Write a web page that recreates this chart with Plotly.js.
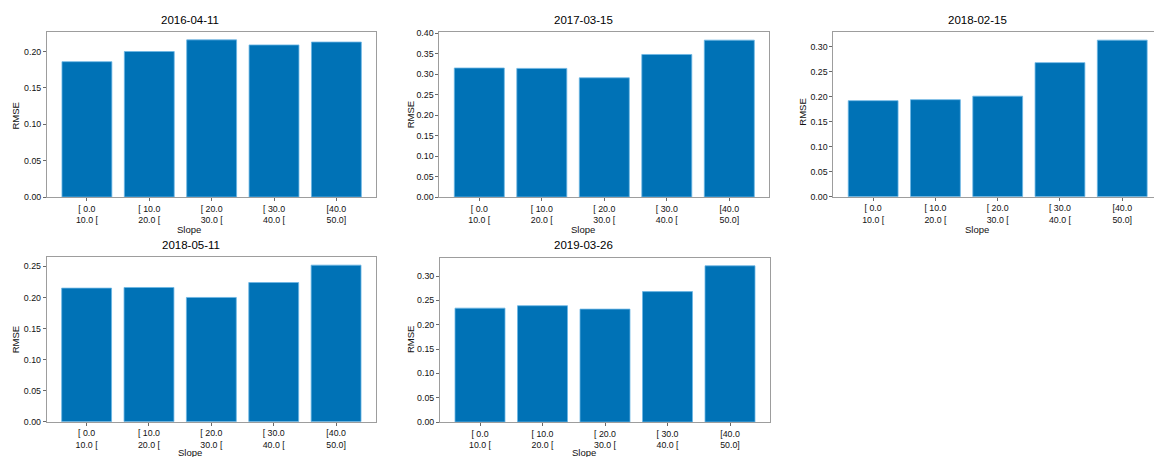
<!DOCTYPE html>
<html>
<head>
<meta charset="utf-8">
<script src="https://cdn.plot.ly/plotly-3.0.1.min.js"></script>
<style>html,body{margin:0;padding:0;background:#fff;}#chart{width:1154px;height:457px;}</style>
</head>
<body>
<div id="chart"></div>
<script>
// ---- data ----
const slopeClasses = ['[ 0.0<br>10.0 [', '[ 10.0<br>20.0 [', '[ 20.0<br>30.0 [', '[ 30.0<br>40.0 [', '[40.0<br>50.0]'];
const dates = ['2016-04-11', '2017-03-15', '2018-02-15', '2018-05-11', '2019-03-26'];
const rmse_2016_04_11 = [0.186, 0.200, 0.216, 0.209, 0.213];
const rmse_2017_03_15 = [0.315, 0.314, 0.291, 0.348, 0.383];
const rmse_2018_02_15 = [0.192, 0.194, 0.201, 0.268, 0.313];
const rmse_2018_05_11 = [0.215, 0.216, 0.200, 0.224, 0.252];
const rmse_2019_03_26 = [0.234, 0.239, 0.232, 0.268, 0.321];
const xLabel = 'Slope';
const yLabel = 'RMSE';

const series = [rmse_2016_04_11, rmse_2017_03_15, rmse_2018_02_15, rmse_2018_05_11, rmse_2019_03_26];

// ---- layout geometry (pixels) ----
const W = 1154, H = 457;
const boxes = [
  {l: 47,    r: 376.3, t: 32,   b: 197,   xr: 4.64},
  {l: 439.3, r: 769.3, t: 32.3, b: 197,   xr: 4.64},
  {l: 833.3, r: 1154,  t: 32.3, b: 196.7, xr: 4.51},
  {l: 46.7,  r: 376,   t: 257.3,b: 421.7, xr: 4.64},
  {l: 440,   r: 770,   t: 258,  b: 422,   xr: 4.64}
];
const titlePos = [[190, 20], [583, 20], [977, 20], [190.5, 245], [583.5, 245]];
const xlabPos  = [[189, 229.5], [583, 229.5], [977, 229.5], [190, 452], [583.5, 452]];
const ylabPos  = [[15.5, 116], [411.3, 115], [802.7, 112], [15.3, 340], [410, 340]];

const fontFam = '"Liberation Sans", Arial, Helvetica, sans-serif';
const barColor = '#0072b6';
const edgeColor = '#6cb6e4';
const spine = '#9d9d9d';
const txt = '#111';

const data = [];
const layout = {
  width: W, height: H,
  margin: {l: 0, r: 0, t: 0, b: 0},
  paper_bgcolor: '#fff', plot_bgcolor: '#fff',
  showlegend: false,
  bargap: 0.2,
  font: {family: fontFam, size: 8.5, color: txt},
  annotations: []
};

series.forEach((vals, i) => {
  const n = i + 1;
  const xa = n === 1 ? 'x' : 'x' + n;
  const ya = n === 1 ? 'y' : 'y' + n;
  data.push({
    type: 'bar', x: slopeClasses, y: vals, xaxis: xa, yaxis: ya,
    marker: {color: barColor, line: {color: edgeColor, width: 0.8}},
    hoverinfo: 'x+y'
  });
  const bx = boxes[i];
  const ymax = Math.max(...vals) * 1.05;
  layout['xaxis' + (n === 1 ? '' : n)] = {
    domain: [bx.l / W, bx.r / W], anchor: ya,
    type: 'category', range: [-0.64, bx.xr],
    showline: true, linecolor: spine, linewidth: 1, mirror: true,
    ticks: 'outside', ticklen: 3, tickcolor: '#444', tickwidth: 0.8,
    showgrid: false, zeroline: false,
    tickfont: {size: 8.8, color: txt, family: fontFam}
  };
  layout['yaxis' + (n === 1 ? '' : n)] = {
    domain: [1 - bx.b / H, 1 - bx.t / H], anchor: xa,
    range: [0, ymax], dtick: 0.05, tickformat: '.2f',
    showline: true, linecolor: spine, linewidth: 1, mirror: n === 3 ? false : true,
    ticks: 'outside', ticklen: 3, tickcolor: '#444', tickwidth: 0.8,
    showgrid: false, zeroline: false,
    tickfont: {size: 8.8, color: txt, family: fontFam}
  };
  layout.annotations.push({
    text: dates[i], xref: 'paper', yref: 'paper',
    x: titlePos[i][0] / W, y: 1 - titlePos[i][1] / H,
    xanchor: 'center', yanchor: 'middle', showarrow: false,
    font: {size: 11.5, color: '#000', family: fontFam}
  });
  layout.annotations.push({
    text: xLabel, xref: 'paper', yref: 'paper',
    x: xlabPos[i][0] / W, y: 1 - xlabPos[i][1] / H,
    xanchor: 'center', yanchor: 'middle', showarrow: false,
    font: {size: 9.5, color: txt, family: fontFam}
  });
  layout.annotations.push({
    text: yLabel, xref: 'paper', yref: 'paper',
    x: ylabPos[i][0] / W, y: 1 - ylabPos[i][1] / H,
    xanchor: 'center', yanchor: 'middle', showarrow: false, textangle: -90,
    font: {size: 9.5, color: txt, family: fontFam}
  });
});

Plotly.newPlot('chart', data, layout, {staticPlot: true, displayModeBar: false});
</script>
</body>
</html>
